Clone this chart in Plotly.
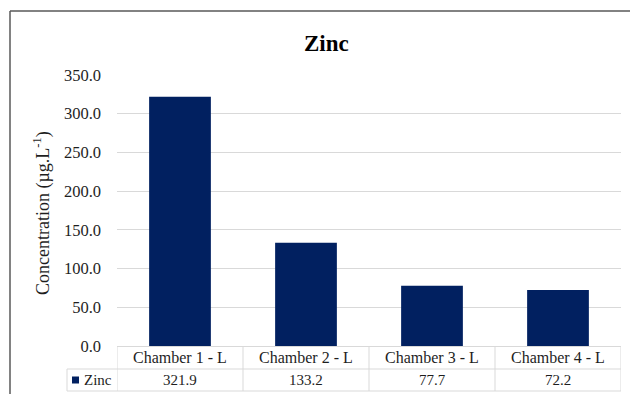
import plotly.graph_objects as go

# Zinc concentration per chamber
categories = ["Chamber 1 - L", "Chamber 2 - L", "Chamber 3 - L", "Chamber 4 - L"]
zinc = [321.9, 133.2, 77.7, 72.2]
series_name = "Zinc"
y_ticks = [0, 50, 100, 150, 200, 250, 300, 350]

W, H = 630, 394
L, R, T, B = 117, 621, 75, 346
BAR = "#012060"
GRID = "#d9d9d9"
TXT = "#1e1e1e"
FONT = "Times New Roman, Liberation Serif, Times, serif"


def px(x):
    return (x - L) / (R - L)


def py(y):
    return (B - y) / (B - T)


fig = go.Figure()
fig.add_trace(go.Bar(
    x=list(range(len(categories))), y=zinc, name=series_name,
    marker=dict(color=BAR, line=dict(width=0)),
    showlegend=False, hoverinfo="x+y",
))

shapes = []
# data table grid under the plot
row1, row2, row3 = 346, 369, 391
for i in range(len(categories) + 1):
    shapes.append(dict(type="line", xref="x", yref="paper",
                       x0=i - 0.5, x1=i - 0.5, y0=py(row1), y1=py(row3),
                       line=dict(color=GRID, width=1)))
for yy in (row2, row3):
    shapes.append(dict(type="line", xref="paper", yref="paper",
                       x0=px(67), x1=1, y0=py(yy), y1=py(yy),
                       line=dict(color=GRID, width=1)))
shapes.append(dict(type="line", xref="paper", yref="paper",
                   x0=px(67), x1=px(67), y0=py(row2), y1=py(row3),
                   line=dict(color=GRID, width=1)))
# legend key in the table row header
shapes.append(dict(type="rect", xref="paper", yref="paper",
                   x0=px(72), x1=px(79), y0=py(383.5), y1=py(376.5),
                   fillcolor=BAR, line=dict(width=0)))
# chart frame
shapes.append(dict(type="line", xref="paper", yref="paper",
                   x0=px(10), x1=px(10), y0=py(11), y1=py(394),
                   line=dict(color="#595959", width=1.5)))
shapes.append(dict(type="line", xref="paper", yref="paper",
                   x0=px(10), x1=px(630), y0=py(11), y1=py(11),
                   line=dict(color="#595959", width=1.5)))

annotations = [
    dict(text="<b>Zinc</b>", xref="paper", yref="paper", x=px(326), y=py(43),
         xanchor="center", yanchor="middle", showarrow=False,
         font=dict(family=FONT, size=23, color="#000")),
    dict(text="Concentration (µg.L<sup>-1</sup>)", xref="paper", yref="paper",
         x=px(42), y=py(213), xanchor="center", yanchor="middle",
         textangle=-90, showarrow=False,
         font=dict(family=FONT, size=18, color=TXT)),
    dict(text=series_name, xref="paper", yref="paper", x=px(82), y=py(380),
         xanchor="left", yanchor="middle", showarrow=False,
         font=dict(family=FONT, size=15, color=TXT)),
]
for i, (c, v) in enumerate(zip(categories, zinc)):
    annotations.append(dict(text=c, xref="x", yref="paper", x=i, y=py(357.5),
                            xanchor="center", yanchor="middle", showarrow=False,
                            font=dict(family=FONT, size=16, color=TXT)))
    annotations.append(dict(text=f"{v:.1f}", xref="x", yref="paper", x=i, y=py(380),
                            xanchor="center", yanchor="middle", showarrow=False,
                            font=dict(family=FONT, size=15, color=TXT)))

fig.update_layout(
    width=W, height=H,
    margin=dict(l=L, r=W - R, t=T, b=H - B),
    paper_bgcolor="white", plot_bgcolor="white",
    bargap=0.51,
    font=dict(family=FONT, size=15, color=TXT),
    shapes=shapes, annotations=annotations,
    xaxis=dict(range=[-0.5, len(categories) - 0.5], showticklabels=False,
               showgrid=False, zeroline=False, showline=False,
               tickvals=list(range(len(categories)))),
    yaxis=dict(range=[0, 350], tickvals=y_ticks,
               ticktext=[f"{t:.1f}" for t in y_ticks],
               showgrid=True, gridcolor=GRID, gridwidth=1,
               zeroline=True, zerolinecolor=GRID, zerolinewidth=1,
               showline=False, ticks="", ticklabelstandoff=15,
               tickfont=dict(family=FONT, size=16.5, color=TXT)),
)

fig.write_html("out.html")
